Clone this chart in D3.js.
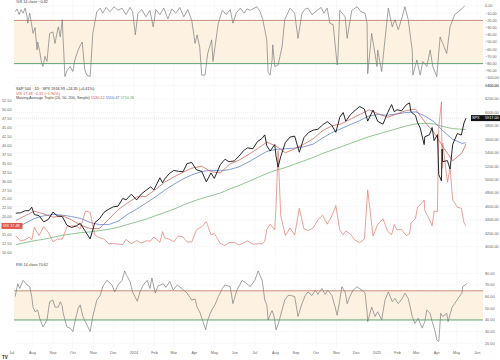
<!DOCTYPE html>
<html><head><meta charset="utf-8">
<script src="https://cdn.jsdelivr.net/npm/d3@7"></script>
<style>body{margin:0;background:#fff}svg{display:block}text{font-family:"Liberation Sans",Arial,sans-serif}</style>
</head><body><svg id="c" width="500" height="360"></svg>
<script>
// ---------- DATA ----------
const dates = ["2023-07-07","2023-07-14","2023-07-21","2023-07-27","2023-07-31","2023-08-04","2023-08-11","2023-08-18","2023-08-25","2023-09-01","2023-09-08","2023-09-15","2023-09-22","2023-09-29","2023-10-06","2023-10-12","2023-10-20","2023-10-27","2023-11-03","2023-11-10","2023-11-17","2023-11-24","2023-12-01","2023-12-08","2023-12-15","2023-12-20","2023-12-28","2024-01-05","2024-01-12","2024-01-19","2024-01-26","2024-01-31","2024-02-09","2024-02-13","2024-02-16","2024-02-23","2024-03-01","2024-03-08","2024-03-15","2024-03-21","2024-03-28","2024-04-04","2024-04-12","2024-04-19","2024-04-26","2024-05-01","2024-05-10","2024-05-17","2024-05-23","2024-05-31","2024-06-07","2024-06-14","2024-06-20","2024-06-28","2024-07-05","2024-07-12","2024-07-16","2024-07-19","2024-07-24","2024-07-31","2024-08-02","2024-08-05","2024-08-09","2024-08-16","2024-08-23","2024-08-30","2024-09-06","2024-09-13","2024-09-20","2024-09-27","2024-10-04","2024-10-11","2024-10-18","2024-10-25","2024-10-31","2024-11-06","2024-11-11","2024-11-15","2024-11-22","2024-11-29","2024-12-06","2024-12-13","2024-12-18","2024-12-26","2025-01-02","2025-01-10","2025-01-17","2025-01-23","2025-01-27","2025-01-31","2025-02-07","2025-02-14","2025-02-19","2025-02-21","2025-02-28","2025-03-03","2025-03-07","2025-03-13","2025-03-14","2025-03-21","2025-03-25","2025-03-28","2025-04-02","2025-04-04","2025-04-08","2025-04-09","2025-04-10","2025-04-17","2025-04-21","2025-04-25","2025-05-02","2025-05-08","2025-05-12","2025-05-15"];
const spx = [4500,4505,4536,4537,4589,4478,4464,4370,4406,4516,4457,4450,4320,4288,4308,4349,4224,4117,4358,4415,4514,4559,4595,4604,4719,4698,4783,4697,4784,4840,4891,4846,5027,4953,5006,5089,5137,5124,5117,5241,5254,5147,5123,4967,5100,5018,5223,5303,5268,5278,5347,5432,5473,5460,5567,5615,5667,5505,5427,5522,5346,5186,5344,5554,5634,5648,5408,5626,5703,5738,5751,5815,5864,5808,5705,5929,6001,5871,5969,6032,6090,6051,5872,6037,5869,5827,5997,6119,6012,6041,6026,6115,6144,6013,5955,5850,5770,5522,5639,5668,5777,5581,5671,5074,4982,5457,5268,5283,5158,5525,5687,5664,5844,5917];
const vix = [14.8,13.3,13.6,14.4,13.6,17.1,14.8,17.3,15.7,13.1,13.8,13.8,17.2,17.5,17.5,16.7,21.7,21.3,14.9,14.2,13.8,12.5,12.6,12.4,12.3,13.7,12.5,13.4,12.7,13.3,13.3,14.4,12.9,15.9,14.2,13.8,13.1,14.7,14.4,13.0,13.0,16.4,17.3,18.7,15.0,15.4,12.6,12.0,12.8,12.9,12.2,12.7,13.3,12.4,12.5,12.5,13.2,16.5,18.0,16.4,23.4,38.6,20.4,14.8,16.9,15.0,22.4,16.6,16.2,17.0,19.2,20.5,18.0,20.3,23.2,16.3,15.0,16.1,15.2,13.5,12.8,13.8,27.6,14.7,17.9,19.5,16.0,15.0,17.9,16.4,16.5,14.8,15.3,18.2,19.6,22.8,23.4,24.7,21.8,19.3,17.5,21.7,21.5,45.3,52.3,33.6,40.7,29.7,33.8,24.8,22.7,22.5,18.4,17.5];

const maDates = ["2023-07-07","2023-07-21","2023-08-04","2023-08-18","2023-09-01","2023-09-15","2023-09-29","2023-10-13","2023-10-27","2023-11-10","2023-11-24","2023-12-08","2023-12-22","2024-01-05","2024-01-19","2024-02-02","2024-02-16","2024-03-01","2024-03-15","2024-03-28","2024-04-12","2024-04-26","2024-05-10","2024-05-24","2024-06-07","2024-06-21","2024-07-05","2024-07-19","2024-08-02","2024-08-16","2024-08-30","2024-09-13","2024-09-27","2024-10-11","2024-10-25","2024-11-08","2024-11-22","2024-12-06","2024-12-20","2025-01-03","2025-01-17","2025-01-31","2025-02-14","2025-02-28","2025-03-14","2025-03-28","2025-04-11","2025-04-25","2025-05-09","2025-05-15"];
const ma20 = [4390,4460,4530,4490,4440,4460,4400,4320,4270,4270,4410,4550,4650,4740,4750,4850,4960,5040,5110,5170,5200,5120,5100,5230,5290,5370,5460,5560,5500,5400,5460,5530,5610,5730,5800,5830,5900,5970,6040,5980,5930,5980,6030,6050,5860,5700,5480,5280,5400,5530];
const ma50 = [4270,4350,4420,4460,4480,4470,4450,4420,4360,4330,4330,4380,4480,4560,4650,4740,4840,4930,5010,5070,5120,5140,5130,5150,5190,5260,5340,5420,5450,5460,5470,5490,5530,5620,5700,5760,5820,5880,5950,5970,5960,5980,6000,6010,5950,5860,5720,5600,5540,5550];
const ma200 = [4030,4060,4090,4110,4140,4170,4190,4210,4220,4240,4260,4290,4330,4370,4410,4460,4510,4560,4620,4670,4720,4760,4800,4860,4910,4970,5030,5090,5140,5180,5230,5280,5330,5390,5440,5490,5540,5590,5640,5680,5720,5760,5800,5830,5840,5830,5790,5760,5750,5750];

const wrDates = ["2023-07-06","2023-07-09","2023-07-12","2023-07-15","2023-07-18","2023-07-21","2023-07-24","2023-07-25","2023-07-28","2023-08-02","2023-08-05","2023-08-08","2023-08-09","2023-08-12","2023-08-15","2023-08-17","2023-08-20","2023-08-23","2023-08-27","2023-09-01","2023-09-04","2023-09-09","2023-09-12","2023-09-15","2023-09-16","2023-09-19","2023-09-22","2023-09-27","2023-10-01","2023-10-04","2023-10-09","2023-10-12","2023-10-15","2023-10-19","2023-10-22","2023-10-27","2023-10-31","2023-11-06","2023-11-11","2023-11-15","2023-11-20","2023-11-26","2023-12-02","2023-12-08","2023-12-14","2023-12-20","2023-12-26","2023-12-30","2024-01-03","2024-01-07","2024-01-13","2024-01-19","2024-01-25","2024-01-30","2024-02-03","2024-02-09","2024-02-15","2024-02-21","2024-02-27","2024-03-04","2024-03-10","2024-03-16","2024-03-22","2024-03-28","2024-04-02","2024-04-05","2024-04-09","2024-04-12","2024-04-17","2024-04-21","2024-04-27","2024-04-29","2024-05-03","2024-05-07","2024-05-13","2024-05-19","2024-05-25","2024-05-29","2024-06-03","2024-06-09","2024-06-15","2024-06-19","2024-06-24","2024-07-04","2024-07-09","2024-07-13","2024-07-19","2024-07-21","2024-07-24","2024-07-27","2024-07-28","2024-07-31","2024-08-05","2024-08-11","2024-08-15","2024-08-23","2024-08-30","2024-09-04","2024-09-10","2024-09-15","2024-09-19","2024-09-25","2024-10-03","2024-10-09","2024-10-13","2024-10-18","2024-10-22","2024-10-27","2024-11-02","2024-11-03","2024-11-06","2024-11-14","2024-11-17","2024-11-24","2024-12-02","2024-12-08","2024-12-14","2024-12-17","2024-12-18","2024-12-24","2025-01-01","2025-01-02","2025-01-08","2025-01-13","2025-01-18","2025-01-24","2025-01-28","2025-02-02","2025-02-08","2025-02-12","2025-02-17","2025-02-23","2025-02-24","2025-03-02","2025-03-07","2025-03-11","2025-03-17","2025-03-22","2025-03-26","2025-04-01","2025-04-06","2025-04-10","2025-04-16","2025-04-21","2025-04-28","2025-05-06","2025-05-13"];
const wrValues = [-8,-4,-12,-5,-10,-3,-15,-24,-10,-38,-30,-61,-50,-63,-80,-84,-70,-77,-38,-36,-52,-29,-43,-19,-40,-98,-90,-84,-91,-75,-61,-55,-50,-89,-96,-98,-38,-8,-3,-10,-2,-8,-1,-6,-3,-12,-2,-8,-40,-10,-5,-15,-6,-29,-5,-12,-3,-18,-4,-10,-2,-15,-5,-20,-52,-40,-57,-96,-96,-66,-47,-77,-50,-24,-6,-12,-5,-24,-10,-3,-10,-4,-6,-1,-8,-19,-47,-92,-96,-75,-54,-84,-82,-57,-19,-3,-10,-45,-10,-4,-3,-12,-6,-2,-10,-3,-24,-26,-82,-73,-6,-15,-45,-6,-1,-8,-10,-24,-94,-38,-84,-61,-91,-47,-3,-29,-19,-33,-15,-1,-19,-61,-96,-75,-96,-77,-84,-61,-84,-98,-43,-52,-66,-29,-12,-6,0];

const rsiDates = ["2023-07-06","2023-07-10","2023-07-13","2023-07-18","2023-07-24","2023-07-28","2023-07-31","2023-08-02","2023-08-05","2023-08-09","2023-08-12","2023-08-17","2023-08-23","2023-08-27","2023-09-01","2023-09-04","2023-09-09","2023-09-12","2023-09-15","2023-09-16","2023-09-19","2023-09-22","2023-09-27","2023-10-01","2023-10-04","2023-10-09","2023-10-12","2023-10-16","2023-10-22","2023-10-27","2023-10-31","2023-11-06","2023-11-11","2023-11-15","2023-11-21","2023-11-29","2023-12-03","2023-12-08","2023-12-14","2023-12-18","2023-12-21","2023-12-26","2023-12-30","2024-01-06","2024-01-10","2024-01-15","2024-01-21","2024-01-25","2024-01-28","2024-02-02","2024-02-06","2024-02-14","2024-02-18","2024-02-24","2024-02-29","2024-03-06","2024-03-13","2024-03-21","2024-03-28","2024-04-02","2024-04-05","2024-04-09","2024-04-14","2024-04-18","2024-04-21","2024-04-27","2024-05-02","2024-05-07","2024-05-13","2024-05-17","2024-05-25","2024-05-29","2024-06-04","2024-06-12","2024-06-19","2024-06-24","2024-07-01","2024-07-06","2024-07-12","2024-07-13","2024-07-16","2024-07-19","2024-07-21","2024-07-25","2024-07-27","2024-07-30","2024-08-02","2024-08-05","2024-08-11","2024-08-15","2024-08-20","2024-08-24","2024-08-30","2024-09-02","2024-09-04","2024-09-10","2024-09-15","2024-09-19","2024-09-25","2024-09-30","2024-10-04","2024-10-10","2024-10-15","2024-10-19","2024-10-25","2024-10-30","2024-11-02","2024-11-06","2024-11-09","2024-11-14","2024-11-17","2024-11-21","2024-11-26","2024-12-02","2024-12-09","2024-12-14","2024-12-17","2024-12-18","2024-12-24","2024-12-29","2025-01-02","2025-01-08","2025-01-13","2025-01-18","2025-01-24","2025-01-28","2025-02-02","2025-02-08","2025-02-12","2025-02-17","2025-02-20","2025-02-23","2025-02-27","2025-03-04","2025-03-10","2025-03-14","2025-03-17","2025-03-22","2025-03-25","2025-03-29","2025-04-01","2025-04-04","2025-04-07","2025-04-10","2025-04-16","2025-04-18","2025-04-24","2025-04-28","2025-05-03","2025-05-09","2025-05-10","2025-05-16"];
const rsiValues = [60,71,67,74,70,68.5,60,51,47,48.5,41.5,34,40,55.6,57,51,51,55.6,52,47,40,34,33,30,38.5,50,53,43,36,30,43,57,61,68.5,74,70,64,70,74,82,78,73,64,56,64,70,74,67,76,63,69,71,68,73,65.6,70,67,63,57,58,51,47,38.5,31.5,40,48.5,53,60,67,70,68.5,54,65.6,74,71,68.5,74,82,74,70,57,53,40,45.7,48,43,31.5,36,48.5,57,61,61,60,50,43,54,61,64,61,65.6,62,67,62,65.6,61,51,44,57,68.5,64,54,60,65.6,68.5,65.6,63,47,38.5,51,43,47,40,57,64,55.6,58.5,54,58.5,63,58.5,51,43,37,41.5,33,38.5,48.5,45.7,38.5,31.5,23,21.5,45.7,43,45.7,38.5,51,54,58.5,63,68.5,71];

const priceTicks = [4000,4200,4400,4600,4800,5000,5200,5400,5600,5800,6000,6200,6400];
const vixTicks = [10,12.5,15,17.5,20,22.5,25,27.5,30,32.5,35,37.5,40,42.5,45,47.5,50,52.5];
const wrTicks = [0,-10,-20,-30,-40,-50,-60,-70,-80,-90,-100,-110];
const rsiTicks = [20,30,40,50,60,70,80];
const wrBands = [-20,-80];
const rsiBands = [65,40];
const legendMain = "S&P 500 · 1D · SPX   5916.93  +24.35 (+0.41%)";
const legendVix = "VIX   17.48  −0.35 (−1.96%)";
const legendMA = ["Moving Average Triple (20, 50, 200, Simple)", "5530.12", "5550.47", "5750.36"];
const legendWR = "%R 14 close  −0.82";
const legendRSI = "RSI 14 close  70.62";

// ---------- LAYOUT ----------
const svg = d3.select("#c");
const P = d3.timeParse("%Y-%m-%d");
const X0 = 14, X1 = 483;
const x = d3.scaleTime().domain([new Date(2023,6,1), new Date(2025,6,1)]).range([11.8, 497.2]);
const yWR = d3.scaleLinear().domain([0,-100]).range([6,78]);
const yP = d3.scaleLinear().domain([4000,6400]).range([246.7,85.7]);
const yV = d3.scaleLinear().domain([10,52.5]).range([252.7,101]);
const yR = d3.scaleLinear().domain([20,80]).range([343.3,273.3]);

const panels = [{id:"p1",y0:0,y1:86},{id:"p2",y0:87,y1:262},{id:"p3",y0:263,y1:348}];
const defs = svg.append("defs");
panels.forEach(p=>defs.append("clipPath").attr("id",p.id).append("rect").attr("x",X0).attr("y",p.y0).attr("width",X1-X0).attr("height",p.y1-p.y0));

const months = d3.timeMonth.range(new Date(2023,6,1), new Date(2025,6,2));
const grid = svg.append("g").attr("stroke","#f2f2f2").attr("stroke-width",0.5);
panels.forEach(p=>{
  months.forEach(m=>{const xx=x(m); if(xx>X0&&xx<X1) grid.append("line").attr("x1",xx).attr("x2",xx).attr("y1",p.y0).attr("y2",p.y1);});
});
priceTicks.forEach(t=>grid.append("line").attr("x1",X0).attr("x2",X1).attr("y1",yP(t)).attr("y2",yP(t)));
wrTicks.forEach(t=>grid.append("line").attr("x1",X0).attr("x2",X1).attr("y1",yWR(t)).attr("y2",yWR(t)));
rsiTicks.forEach(t=>grid.append("line").attr("x1",X0).attr("x2",X1).attr("y1",yR(t)).attr("y2",yR(t)));

function band(scale, b, up, lo){
  svg.append("rect").attr("x",X0).attr("width",X1-X0).attr("y",scale(b[0])).attr("height",scale(b[1])-scale(b[0])).attr("fill","#fdf1e2");
  svg.append("line").attr("x1",X0).attr("x2",X1).attr("y1",scale(b[0])).attr("y2",scale(b[0])).attr("stroke",up).attr("stroke-width",0.9);
  svg.append("line").attr("x1",X0).attr("x2",X1).attr("y1",scale(b[1])).attr("y2",scale(b[1])).attr("stroke",lo).attr("stroke-width",0.9);
}
band(yWR, wrBands, "#c4836f", "#4f9a68");
band(yR, rsiBands, "#c4836f", "#4f9a68");

function line(ds, vs, ys, color, w, clip){
  const data = ds.map((d,i)=>[P(d), vs[i]]);
  svg.append("path").datum(data).attr("clip-path",`url(#${clip})`)
    .attr("fill","none").attr("stroke",color).attr("stroke-width",w).attr("stroke-linejoin","round")
    .attr("d", d3.line().x(d=>x(d[0])).y(d=>ys(d[1])));
}
line(wrDates, wrValues, yWR, "#7d7d7d", 0.7, "p1");
line(rsiDates, rsiValues, yR, "#7d7d7d", 0.7, "p3");

svg.append("line").attr("x1",X0).attr("x2",X1).attr("y1",yP(spx[spx.length-1])).attr("y2",yP(spx[spx.length-1])).attr("stroke","#c8c8c8").attr("stroke-width",0.5).attr("stroke-dasharray","1,1");

line(maDates, ma200, yP, "#5fae5f", 0.7, "p2");
line(maDates, ma50, yP, "#4a72c4", 0.7, "p2");
line(dates, vix, yV, "#e2796c", 0.7, "p2");
line(maDates, ma20, yP, "#c8564c", 0.7, "p2");
line(dates, spx, yP, "#111", 0.9, "p2");

const lv = vix[vix.length-1];
const ax = svg.append("g").attr("font-size",3.8).attr("fill","#666");
priceTicks.forEach(t=>ax.append("text").attr("x",485).attr("y",yP(t)+1.3).text(d3.format(".2f")(t)));
wrTicks.forEach(t=>ax.append("text").attr("x",485).attr("y",yWR(t)+1.3).text(d3.format(".2f")(t).replace("-","−")));
rsiTicks.forEach(t=>ax.append("text").attr("x",485).attr("y",yR(t)+1.3).text(d3.format(".2f")(t)));
vixTicks.filter(t=>Math.abs(yV(t)-yV(lv))>5).forEach(t=>ax.append("text").attr("x",2).attr("y",yV(t)+1.3).text(d3.format(".2f")(t)));
const fmt = d=> d.getMonth()===0 ? d3.timeFormat("%Y")(d) : d3.timeFormat("%b")(d);
months.forEach(m=>{const xx=x(m); if(xx<490) ax.append("text").attr("x",xx).attr("y",353.5).attr("text-anchor","middle").text(fmt(m));});

const last = spx[spx.length-1];
svg.append("rect").attr("x",471).attr("y",yP(last)-3).attr("width",29).attr("height",6).attr("fill","#131313");
svg.append("text").attr("x",472).attr("y",yP(last)+1.3).attr("font-size",3.8).attr("fill","#fff").text("SPX");
svg.append("text").attr("x",485).attr("y",yP(last)+1.3).attr("font-size",3.8).attr("fill","#fff").text(d3.format(".2f")(last));
svg.append("rect").attr("x",1.5).attr("y",yV(lv)-3).attr("width",21).attr("height",6).attr("fill","#e0584a");
svg.append("text").attr("x",3).attr("y",yV(lv)+1.3).attr("font-size",3.8).attr("fill","#fff").text("VIX 17.48");

const lg = svg.append("g").attr("font-size",3.8);
lg.append("text").attr("x",16).attr("y",3).attr("fill","#444").text(legendWR);
lg.append("text").attr("x",16).attr("y",90).attr("fill","#333").text(legendMain);
lg.append("text").attr("x",16).attr("y",94.5).attr("fill","#e0584a").text(legendVix);
const t3 = lg.append("text").attr("x",16).attr("y",99).attr("fill","#444");
t3.append("tspan").text(legendMA[0]+"  ");
t3.append("tspan").attr("fill","#c8564c").text(legendMA[1]+"  ");
t3.append("tspan").attr("fill","#4a72c4").text(legendMA[2]+"  ");
t3.append("tspan").attr("fill","#5fae5f").text(legendMA[3]);
lg.append("text").attr("x",16).attr("y",266).attr("fill","#444").text(legendRSI);
svg.append("text").attr("x",2).attr("y",359).attr("font-size",4.5).attr("font-weight","bold").attr("fill","#222").text("TV");
</script></body></html>
